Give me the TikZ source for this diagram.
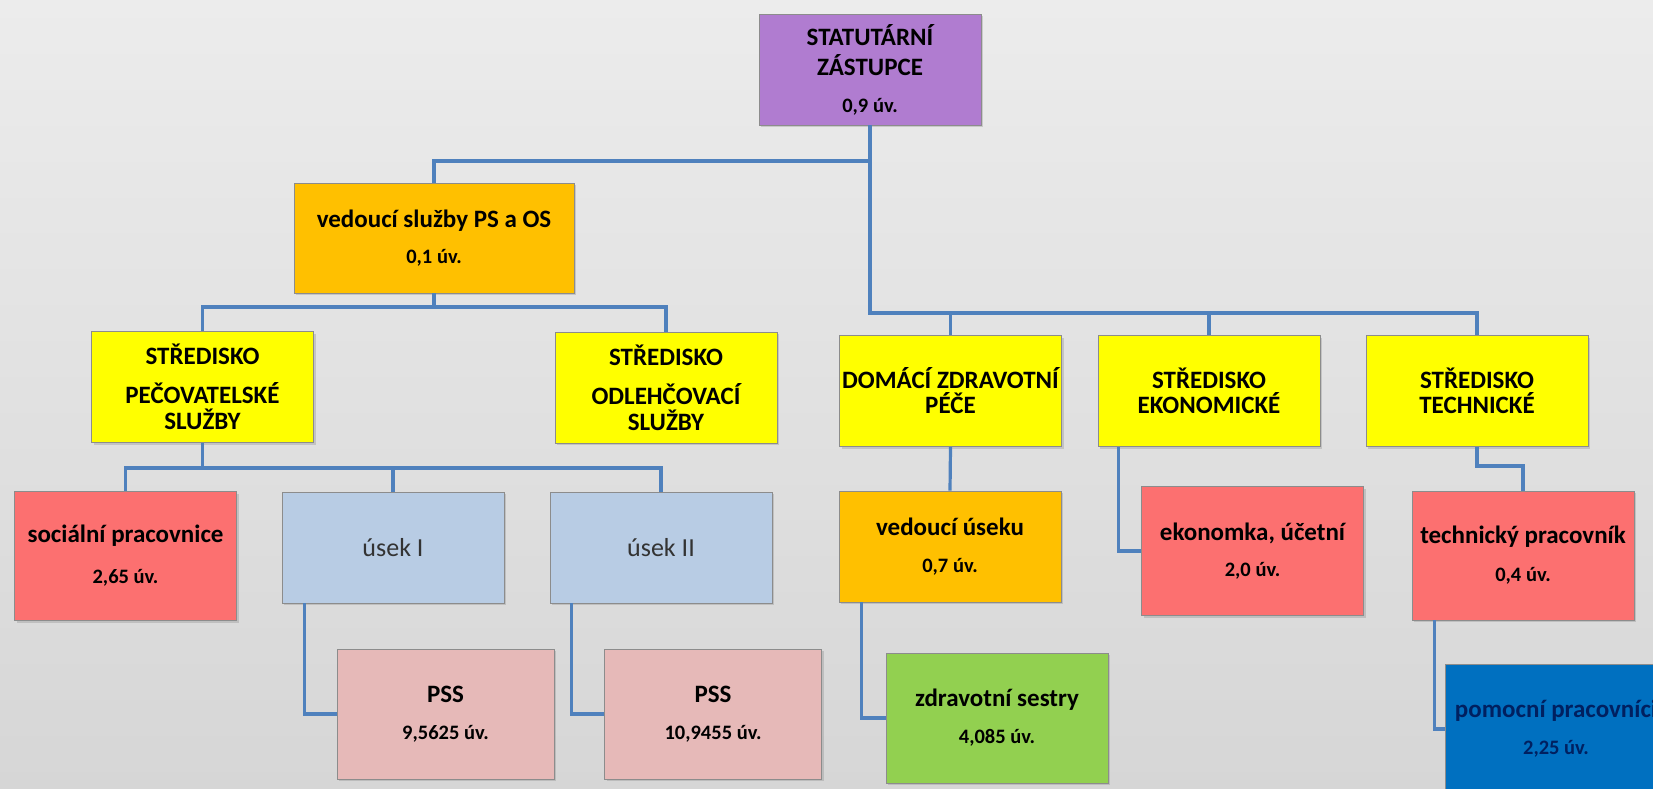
\documentclass[tikz,border=0pt]{standalone}
\usepackage{fontspec}
\setmainfont{Carlito}
\usetikzlibrary{shapes.geometric, shadows}
\definecolor{statfill}{RGB}{176,124,208}
\definecolor{gold}{RGB}{255,192,0}
\definecolor{yellowbox}{RGB}{255,255,0}
\definecolor{redbox}{RGB}{252,112,112}
\definecolor{bluebox}{RGB}{184,204,228}
\definecolor{pinkbox}{RGB}{230,185,184}
\definecolor{greenbox}{RGB}{146,208,80}
\definecolor{darkblue}{RGB}{0,112,192}
\definecolor{navytext}{RGB}{0,32,96}
\definecolor{linecol}{RGB}{79,129,189}
\definecolor{bgtop}{RGB}{236,236,236}
\definecolor{bgbot}{RGB}{214,214,214}
\tikzstyle{orgbox} = [rectangle, draw=black!45, line width=0.8pt, align=center, inner sep=0pt, font=\bfseries\fontsize{25}{30}\selectfont, drop shadow={opacity=0.3, shadow xshift=2pt, shadow yshift=-2pt}]
\tikzstyle{small} = [minimum width=222pt, minimum height=111pt]
\tikzstyle{tall} = [minimum width=222pt, minimum height=129pt]
\tikzstyle{conn} = [draw=linecol, line width=3.2pt]
\newcommand{\uv}[1]{{\fontsize{20.5}{24}\selectfont #1 úv.}}

\begin{document}
\begin{tikzpicture}[x=1pt, y=-1pt]
    \clip (0,0) rectangle (1653,789);
    \fill [top color=bgtop, bottom color=bgbot] (0,0) rectangle (1653,789);
    \node (Stat) [orgbox, small, fill=statfill] at (870,69.5) {STATUTÁRNÍ\\ZÁSTUPCE\\[7pt]\uv{0,9}};
    \node (VedPSOS) [orgbox, fill=gold, minimum width=280pt, minimum height=110pt] at (434,238) {vedoucí služby PS a OS\\[6pt]\uv{0,1}};
    \node (Pecov) [orgbox, small, fill=yellowbox] at (202.5,387) {STŘEDISKO\\[9pt]PEČOVATELSKÉ\\[-4pt]SLUŽBY};
    \node (Odlehc) [orgbox, small, fill=yellowbox] at (666,387.5) {STŘEDISKO\\[9pt]ODLEHČOVACÍ\\[-4pt]SLUŽBY};
    \node (Dzp) [orgbox, small, fill=yellowbox] at (950.5,391) {DOMÁCÍ ZDRAVOTNÍ\\[-5pt]PÉČE};
    \node (Ekon) [orgbox, small, fill=yellowbox] at (1209,391) {STŘEDISKO\\[-5pt]EKONOMICKÉ};
    \node (Tech) [orgbox, small, fill=yellowbox] at (1477,391) {STŘEDISKO\\[-5pt]TECHNICKÉ};
    \node (Social) [orgbox, tall, fill=redbox] at (125.5,556) {sociální pracovnice\\[11pt]\uv{2,65}};
    \node (Usek1) [orgbox, small, fill=bluebox, font=\mdseries\fontsize{26}{30}\selectfont, text=black!80] at (393,547.5) {úsek I};
    \node (Usek2) [orgbox, small, fill=bluebox, font=\mdseries\fontsize{26}{30}\selectfont, text=black!80] at (661,547.5) {úsek II};
    \node (Pss1) [orgbox, minimum width=217pt, minimum height=130pt, fill=pinkbox] at (445.5,714) {PSS\\[7pt]\uv{9,5625}};
    \node (Pss2) [orgbox, minimum width=217pt, minimum height=130pt, fill=pinkbox] at (713,714) {PSS\\[7pt]\uv{10,9455}};
    \node (VedUseku) [orgbox, small, fill=gold] at (950,546.5) {vedoucí úseku\\[7pt]\uv{0,7}};
    \node (Ekonomka) [orgbox, tall, fill=redbox] at (1252.5,551) {ekonomka, účetní\\[6pt]\uv{2,0}};
    \node (Technik) [orgbox, tall, fill=redbox] at (1523,555.5) {technický pracovník\\[8pt]\uv{0,4}};
    \node (Zdrav) [orgbox, tall, minimum height=130pt, fill=greenbox] at (997,718) {zdravotní sestry\\[7pt]\uv{4,085}};
    \node (Pomocni) [orgbox, tall, minimum height=130pt, fill=darkblue, text=navytext] at (1556,729) {pomocní pracovníci\\[7pt]\uv{2,25}};
    \coordinate (BusTop) at (0,161);
    \coordinate (BusPS) at (0,307);
    \coordinate (BusMid) at (0,313);
    \coordinate (BusPec) at (0,468);
    \draw [conn] (Stat.south) -- (Stat.south |- BusMid) -| (Tech.north);
    \draw [conn] (Stat.south |- BusTop) -| (VedPSOS.north);
    \draw [conn] (Stat.south |- BusMid) -| (Dzp.north);
    \draw [conn] (Stat.south |- BusMid) -| (Ekon.north);
    \draw [conn] (VedPSOS.south) -- (VedPSOS.south |- BusPS) -| (Pecov.north);
    \draw [conn] (VedPSOS.south |- BusPS) -| (Odlehc.north);
    \draw [conn] (Pecov.south) -- (Pecov.south |- BusPec) -| (Social.north);
    \draw [conn] (Pecov.south |- BusPec) -| (Usek1.north);
    \draw [conn] (Pecov.south |- BusPec) -| (Usek2.north);
    \draw [conn] ([xshift=23pt]Usek1.south west) |- (Pss1.west);
    \draw [conn] ([xshift=22pt]Usek2.south west) |- (Pss2.west);
    \draw [conn] (Dzp.south) -- (VedUseku.north);
    \draw [conn] ([xshift=23pt]VedUseku.south west) |- (Zdrav.west);
    \draw [conn] ([xshift=21pt]Ekon.south west) |- (Ekonomka.west);
    \draw [conn] (Tech.south) -- ++(0,19) -| (Technik.north);
    \draw [conn] ([xshift=23pt]Technik.south west) |- (Pomocni.west);
\end{tikzpicture}
\end{document}
